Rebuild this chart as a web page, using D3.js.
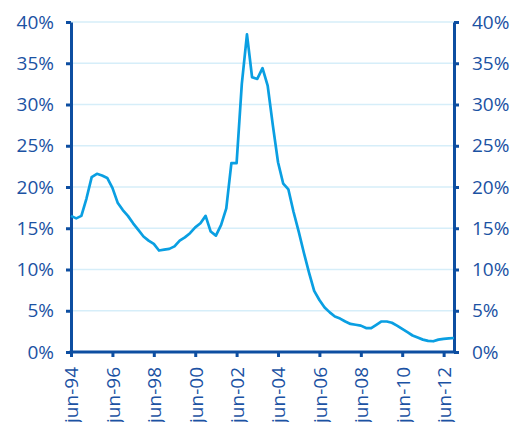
<!DOCTYPE html>
<html>
<head>
<meta charset="utf-8">
<script src="https://cdn.jsdelivr.net/npm/d3@7"></script>
<style>
  html, body { margin: 0; padding: 0; background: #ffffff; }
  svg { display: block; }
  text { font-family: "Open Sans", "Noto Sans", sans-serif; }
</style>
</head>
<body>
<svg id="chart" width="514" height="422"></svg>
<script>
// Quarterly observations, June 1994 to December 2012 (percent)
const startQuarter = "1994-06";
const endQuarter = "2012-12";
const rateValues = [
  16.5, 16.2, 16.5, 18.6, 21.2, 21.6, 21.4, 21.1, 19.9, 18.1,
  17.2, 16.5, 15.6, 14.8, 14.0, 13.5, 13.1, 12.3, 12.4, 12.5,
  12.8, 13.5, 13.9, 14.4, 15.1, 15.6, 16.5, 14.6, 14.1, 15.4,
  17.4, 22.9, 22.9, 32.5, 38.5, 33.3, 33.1, 34.4, 32.3, 27.5,
  23.0, 20.4, 19.7, 17.0, 14.6, 12.0, 9.6, 7.4, 6.3, 5.4,
  4.8, 4.3, 4.05, 3.7, 3.4, 3.3, 3.2, 2.9, 2.9, 3.3,
  3.7, 3.7, 3.55, 3.2, 2.8, 2.4, 2.0, 1.75, 1.5, 1.35,
  1.3, 1.5, 1.6, 1.65, 1.7
];
const yTickValues = [0, 5, 10, 15, 20, 25, 30, 35, 40];
const xTickYears = [1994, 1996, 1998, 2000, 2002, 2004, 2006, 2008, 2010, 2012];
const monthNames = ["jan","feb","mar","apr","may","jun","jul","aug","sep","oct","nov","dec"];

const parseMonth = d3.timeParse("%Y-%m");
const start = parseMonth(startQuarter);
const end = parseMonth(endQuarter);
const data = rateValues.map((v, i) => ({ date: d3.timeMonth.offset(start, i * 3), value: v }));

const margin = { left: 71, right: 60, top: 22, bottom: 70 };
const width = 514, height = 422;
const svg = d3.select("#chart");

const x = d3.scaleTime().domain([start, end]).range([margin.left, width - margin.right]);
const y = d3.scaleLinear().domain([0, 40]).range([height - margin.bottom, margin.top]);

const axisColor = "#0d4ea1";
const textColor = "#1b52a3";
const lineColor = "#0a9fe2";
const gridColor = "#d6eef9";

// horizontal gridlines
svg.append("g")
  .selectAll("line")
  .data(yTickValues.filter(d => d > 0))
  .join("line")
  .attr("x1", x.range()[0])
  .attr("x2", x.range()[1])
  .attr("y1", d => y(d))
  .attr("y2", d => y(d))
  .attr("stroke", gridColor)
  .attr("stroke-width", 1.5);

const pct = d => d + "%";

function styleAxis(g) {
  g.select(".domain").attr("stroke", axisColor).attr("stroke-width", 3);
  g.selectAll(".tick line").attr("stroke", axisColor).attr("stroke-width", 3);
  g.selectAll(".tick text")
    .attr("fill", textColor)
    .style("font-size", "19px");
}

// left axis
svg.append("g")
  .attr("transform", `translate(${x.range()[0]},0)`)
  .call(d3.axisLeft(y).tickValues(yTickValues).tickFormat(pct).tickSize(5).tickPadding(12).tickSizeOuter(0))
  .call(styleAxis);

// right axis
svg.append("g")
  .attr("transform", `translate(${x.range()[1]},0)`)
  .call(d3.axisRight(y).tickValues(yTickValues).tickFormat(pct).tickSize(5).tickPadding(13).tickSizeOuter(0))
  .call(styleAxis);

// bottom axis with rotated month-year labels
const xTicks = xTickYears.map(yr => new Date(yr, 5, 1));
const xAxisG = svg.append("g")
  .attr("transform", `translate(0,${y(0)})`)
  .call(d3.axisBottom(x)
    .tickValues(xTicks)
    .tickFormat(d => monthNames[d.getMonth()] + "-" + String(d.getFullYear()).slice(2))
    .tickSize(5)
    .tickSizeOuter(0))
  .call(styleAxis);
xAxisG.select(".domain").attr("d", `M${x.range()[0] - 1.5},0H${x.range()[1] + 1.5}`);
xAxisG.selectAll(".tick text")
  .attr("transform", "rotate(-90)")
  .attr("text-anchor", "end")
  .attr("x", -15)
  .attr("y", 0)
  .attr("dy", "0.36em");

// series line
svg.append("path")
  .datum(data)
  .attr("fill", "none")
  .attr("stroke", lineColor)
  .attr("stroke-width", 2.7)
  .attr("stroke-linejoin", "round")
  .attr("d", d3.line().x(d => x(d.date)).y(d => y(d.value)));
</script>
</body>
</html>
